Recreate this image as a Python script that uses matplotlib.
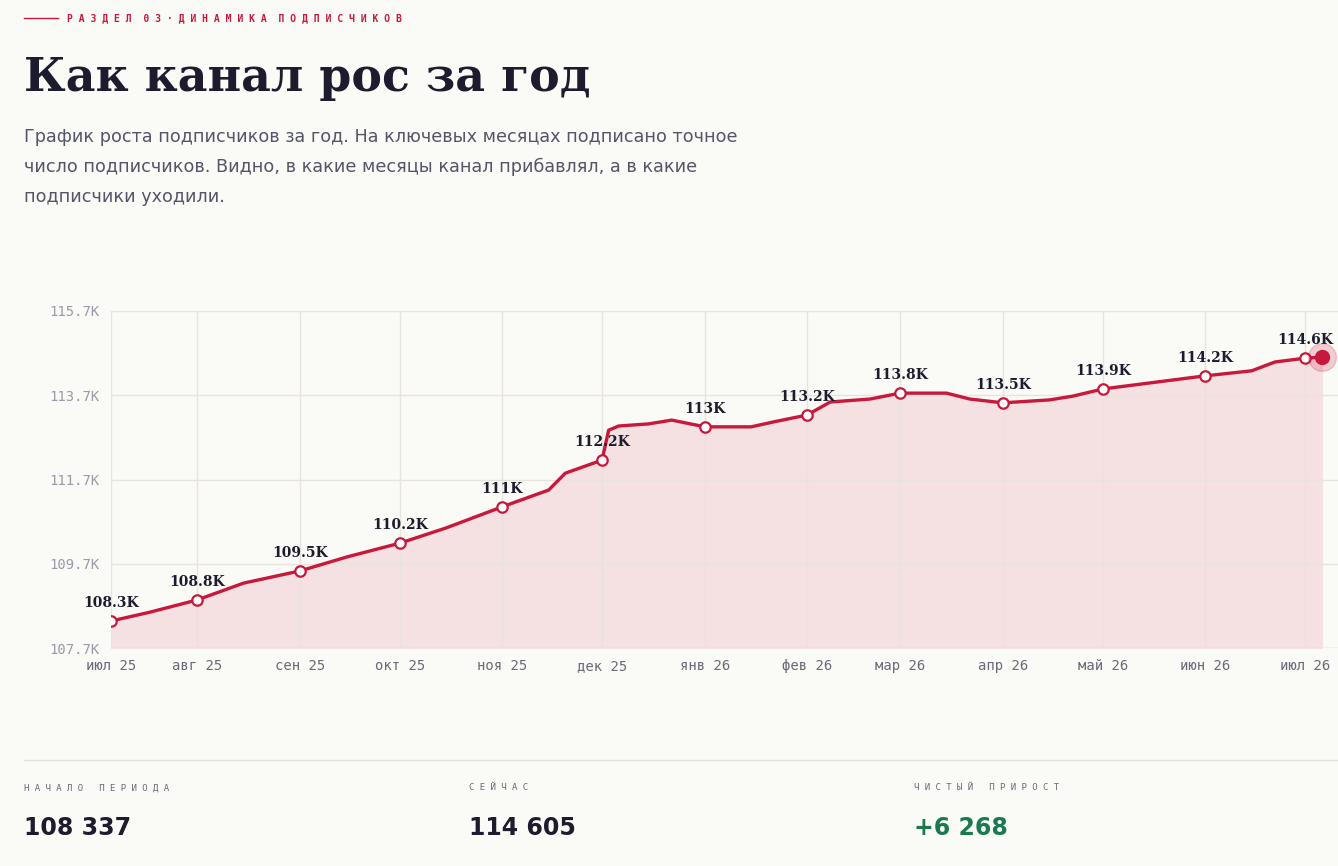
import matplotlib
matplotlib.use("Agg")
import matplotlib.pyplot as plt
import numpy as np
import datetime as dt

# data (thousands of subscribers)
dates = ["2025-07-01","2025-07-15","2025-08-01","2025-08-15","2025-09-01","2025-09-15",
         "2025-10-01","2025-10-15","2025-11-01","2025-11-15","2025-11-20","2025-12-01",
         "2025-12-03","2025-12-06","2025-12-15","2025-12-22","2026-01-01","2026-01-15",
         "2026-01-22","2026-02-01","2026-02-08","2026-02-20","2026-03-01","2026-03-15",
         "2026-03-22","2026-04-01","2026-04-15","2026-04-22","2026-05-01","2026-05-15",
         "2026-06-01","2026-06-15","2026-06-22","2026-07-01","2026-07-06"]
values = [108.34,108.55,108.84,109.24,109.53,109.86,110.19,110.55,111.05,111.45,111.85,112.16,
          112.87,112.97,113.02,113.11,112.95,112.95,113.07,113.23,113.54,113.61,113.75,113.75,
          113.61,113.52,113.59,113.68,113.85,113.99,114.16,114.28,114.49,114.58,114.605]
key_dates = ["2025-07-01","2025-08-01","2025-09-01","2025-10-01","2025-11-01","2025-12-01",
             "2026-01-01","2026-02-01","2026-03-01","2026-04-01","2026-05-01","2026-06-01","2026-07-01"]
key_labels = ["108.3K","108.8K","109.5K","110.2K","111K","112.2K","113K","113.2K","113.8K",
              "113.5K","113.9K","114.2K","114.6K"]
month_labels = ["июл 25","авг 25","сен 25","окт 25","ноя 25","дек 25","янв 26","фев 26",
                "мар 26","апр 26","май 26","июн 26","июл 26"]
yticks = [107.7,109.7,111.7,113.7,115.7]
stats = [("НАЧАЛО ПЕРИОДА","108 337"),("СЕЙЧАС","114 605"),("ЧИСТЫЙ ПРИРОСТ","+6 268")]

RED = "#c8193c"; DARK = "#1c1c2e"; BG = "#fafaf6"; GREY = "#9a9aa8"
# horizontal scale: piecewise between month ticks (as in the reference axis)
tick_pos = np.array([0, 86, 189, 289, 391, 491, 594, 696, 789, 892, 992, 1094, 1194], float)
kd_num = np.array([dt.datetime.fromisoformat(s).toordinal() for s in key_dates], float)
def X(s):
    o = dt.datetime.fromisoformat(s).toordinal()
    if o > kd_num[-1]:
        return tick_pos[-1] + (o - kd_num[-1]) * 100 / 30.0
    return np.interp(o, kd_num, tick_pos)
xs = [X(s) for s in dates]
kx = [X(s) for s in key_dates]
kv = [values[dates.index(s)] for s in key_dates]

fig = plt.figure(figsize=(13.38, 8.66), dpi=100, facecolor=BG)
ax = fig.add_axes([111/1338, 1-648/866, 1-111/1338, (648-311)/866], facecolor=BG)
ax.set_xlim(0, 1338-111)
ax.set_ylim(107.7, 115.7)
ax.fill_between(xs, values, 107.7, color="#f5e1e1", zorder=1)
ax.plot(xs, values, color=RED, lw=2.4, zorder=3)
for xi, yi, lab in zip(kx, kv, key_labels):
    ax.plot(xi, yi, "o", ms=7.5, mfc="white", mec=RED, mew=1.6, zorder=4)
    ax.annotate(lab, (xi, yi), xytext=(0, 8), textcoords="offset points", ha="center",
                va="bottom", fontsize=10, fontweight="bold", family="DejaVu Serif", color=DARK)
ax.plot(xs[-1], values[-1], "o", ms=20, color=RED, alpha=0.2, zorder=4, clip_on=False)
ax.plot(xs[-1], values[-1], "o", ms=10, color=RED, zorder=5, clip_on=False)
ax.set_yticks(yticks)
ax.set_yticklabels([f"{v:.1f}K" for v in yticks], family="DejaVu Sans Mono", fontsize=10, color=GREY)
ax.set_xticks(tick_pos)
ax.set_xticklabels(month_labels, family="DejaVu Sans Mono", fontsize=10, color="#6a6a78")
ax.grid(True, color="#e8e4dc", lw=1, zorder=0)
ax.tick_params(length=0, pad=8)
for s in ax.spines.values():
    s.set_visible(False)
ax.axhline(107.7, color="#e0dcd4", lw=1)

# header
fig.add_artist(plt.Line2D([24/1338, 58/1338], [1-18/866]*2, color=RED, lw=1))
fig.text(67/1338, 1-18/866, "Р А З Д Е Л  0 3 · Д И Н А М И К А  П О Д П И С Ч И К О В",
         color=RED, fontsize=7, family="DejaVu Sans Mono", fontweight="bold", va="center")
fig.text(24/1338, 1-78/866, "Как канал рос за год", fontsize=33, fontweight="bold",
         family="DejaVu Serif", color=DARK, va="center")
fig.text(24/1338, 1-128/866, "График роста подписчиков за год. На ключевых месяцах подписано точное\n"
         "число подписчиков. Видно, в какие месяцы канал прибавлял, а в какие\nподписчики уходили.",
         fontsize=12.7, color="#55556a", va="top", linespacing=1.85)
fig.add_artist(plt.Line2D([24/1338, 1], [1-760/866]*2, color="#e4e0d8", lw=1))
for i, (lab, val) in enumerate(stats):
    x = (24 + 445*i)/1338
    fig.text(x, 1-788/866, " ".join(lab), fontsize=6.5, family="DejaVu Sans Mono",
             color="#6a6a78", va="center")
    fig.text(x, 1-828/866, val, fontsize=17, fontweight="bold",
             color="#1a7a4c" if i == 2 else DARK, va="center")
fig.savefig("out.png", dpi=100, facecolor=BG)
